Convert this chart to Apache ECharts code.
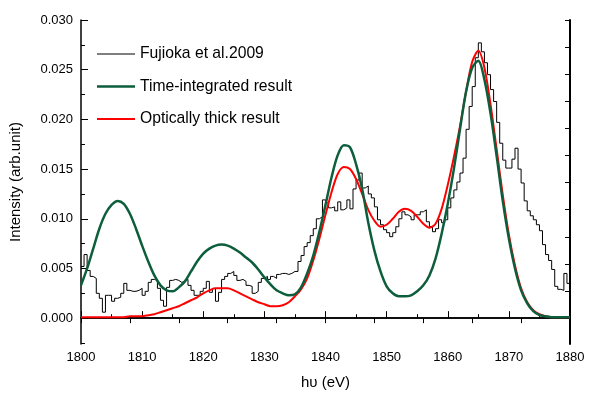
<!DOCTYPE html>
<html>
<head>
<meta charset="utf-8">
<script src="https://cdn.jsdelivr.net/npm/echarts@6/dist/echarts.min.js"></script>
<style>
  html, body { margin: 0; padding: 0; background: #fff; }
  #chart { width: 600px; height: 398px; }
</style>
</head>
<body>
<div id="chart"></div>
<script>
// measured spectrum, 0.5 eV bins starting at 1800 eV
var expStart = 1800, expStep = 0.5;
var expValues = [
  0.0052, 0.0064, 0.0048, 0.0042, 0.0040, 0.0025, 0.0020, 0.0006, 0.0023, 0.0023,
  0.0017, 0.0020, 0.0021, 0.0025, 0.0035, 0.0028, 0.0027, 0.0027, 0.0028, 0.0030,
  0.0023, 0.0027, 0.0036, 0.0039, 0.0038, 0.0030, 0.0018, 0.0012, 0.0031, 0.0038,
  0.0039, 0.0038, 0.0036, 0.0037, 0.0039, 0.0033, 0.0028, 0.0023, 0.0023, 0.0027,
  0.0030, 0.0037, 0.0026, 0.0030, 0.0017, 0.0026, 0.0039, 0.0042, 0.0045, 0.0047,
  0.0043, 0.0038, 0.0039, 0.0037, 0.0033, 0.0032, 0.0025, 0.0027, 0.0036, 0.0040,
  0.0042, 0.0039, 0.0042, 0.0040, 0.0044, 0.0045, 0.0045, 0.0044, 0.0045, 0.0047,
  0.0047, 0.0057, 0.0063, 0.0072, 0.0076, 0.0083, 0.0090, 0.0100, 0.0102, 0.0119,
  0.0116, 0.0111, 0.0112, 0.0108, 0.0117, 0.0109, 0.0111, 0.0119, 0.0110, 0.0130,
  0.0139, 0.0146, 0.0131, 0.0133, 0.0125, 0.0121, 0.0112, 0.0099, 0.0094, 0.0089,
  0.0086, 0.0082, 0.0086, 0.0092, 0.0100, 0.0107, 0.0104, 0.0102, 0.0099, 0.0104,
  0.0104, 0.0107, 0.0109, 0.0097, 0.0092, 0.0087, 0.0090, 0.0099, 0.0096, 0.0099,
  0.0111, 0.0121, 0.0129, 0.0137, 0.0146, 0.0161, 0.0190, 0.0213, 0.0233, 0.0262,
  0.0277, 0.0268, 0.0257, 0.0245, 0.0230, 0.0218, 0.0197, 0.0176, 0.0159, 0.0151,
  0.0151, 0.0160, 0.0171, 0.0150, 0.0136, 0.0118, 0.0108, 0.0103, 0.0099, 0.0094,
  0.0088, 0.0074, 0.0064, 0.0058, 0.0049, 0.0032, 0.0029, 0.0028, 0.0045, 0.0035,
  0.0035
];

// model curves, 1 eV steps starting at 1800 eV
var modelStart = 1800, modelStep = 1;
var timeIntegrated = [
  0.0033, 0.0050, 0.0070, 0.0090, 0.0105, 0.0114, 0.0118, 0.0115, 0.0105, 0.0090,
  0.0073, 0.0057, 0.0043, 0.0033, 0.0028, 0.0027, 0.0031, 0.0037, 0.0047, 0.0057,
  0.0065, 0.0070, 0.0073, 0.0074, 0.0073, 0.0070, 0.0066, 0.0061, 0.0056, 0.0049,
  0.0041, 0.0034, 0.0028, 0.0025, 0.0023, 0.0024, 0.0031, 0.0045, 0.0063, 0.0087,
  0.0114, 0.0142, 0.0164, 0.0174, 0.0172, 0.0155, 0.0130, 0.0096, 0.0068, 0.0047,
  0.0032, 0.0025, 0.0022, 0.0022, 0.0023, 0.0027, 0.0033, 0.0043, 0.0060, 0.0085,
  0.0115, 0.0150, 0.0190, 0.0228, 0.0252, 0.0259, 0.0240, 0.0206, 0.0163, 0.0118,
  0.0080, 0.0050, 0.0028, 0.0015, 0.0007, 0.0003, 0.0002, 0.0001, 0.0001, 0.0001,
  0.0001
];
var opticallyThick = [
  0.0001, 0.0001, 0.0001, 0.0001, 0.0001, 0.0001, 0.0001, 0.0001, 0.0002, 0.0002,
  0.0002, 0.0003, 0.0004, 0.0006, 0.0008, 0.0010, 0.0012, 0.0015, 0.0018, 0.0021,
  0.0025, 0.0028, 0.0030, 0.0030, 0.0030, 0.0028, 0.0025, 0.0022, 0.0019, 0.0016,
  0.0014, 0.0012, 0.0012, 0.0013, 0.0016, 0.0022, 0.0029, 0.0040, 0.0058, 0.0080,
  0.0104, 0.0127, 0.0145, 0.0152, 0.0150, 0.0140, 0.0125, 0.0109, 0.0098, 0.0092,
  0.0094, 0.0100, 0.0107, 0.0110, 0.0108, 0.0102, 0.0095, 0.0091, 0.0095, 0.0110,
  0.0134, 0.0162, 0.0193, 0.0228, 0.0258, 0.0269, 0.0252, 0.0215, 0.0170, 0.0124,
  0.0084, 0.0053, 0.0030, 0.0016, 0.0008, 0.0004, 0.0002, 0.0001, 0.0001, 0.0001,
  0.0001
];

var seriesNames = ['Fujioka et al.2009', 'Time-integrated result', 'Optically thick result'];
var yMajorTicks = [0, 0.005, 0.010, 0.015, 0.020, 0.025, 0.030];
var yMinorTicks = [-0.0025, 0.0025, 0.0075, 0.0125, 0.0175, 0.0225, 0.0275];

function pairs(start, step, vals) {
  return vals.map(function (v, i) { return [start + i * step, v]; });
}

// legend icon: a horizontal bar of given thickness in a 38x14 box
function lineIcon(t) {
  var a = 7 - t / 2, b = 7 + t / 2;
  return 'path://M0,' + a + 'H38V' + b + 'H0Z M0,0H0.01V0.01H0Z M37.99,14H38V13.99H37.99Z';
}

var rightTicks = [];
for (var k = 0; k <= 11; k++) rightTicks.push(k * 0.030 / 11);

var font = 'Arial, "Liberation Sans", sans-serif';
var lineCol = '#000';
var yMin = -0.0026, yMax = 0.030;

var chart = echarts.init(document.getElementById('chart'));
var option = {
  animation: false,
  textStyle: { fontFamily: font },
  grid: { left: 80, right: 30, top: 20, bottom: 54 },
  legend: {
    data: [
      { name: seriesNames[0], icon: lineIcon(1) },
      { name: seriesNames[1], icon: lineIcon(2.6) },
      { name: seriesNames[2], icon: lineIcon(2.2) }
    ],
    orient: 'vertical',
    left: 92,
    top: 41,
    itemWidth: 38,
    itemHeight: 14,
    itemGap: 16.5,
    textStyle: { fontSize: 15.7, color: '#000', fontFamily: font }
  },
  xAxis: [
    {
      type: 'value', min: 1800, max: 1880, interval: 10,
      name: 'h\u03c5 (eV)', nameLocation: 'middle', nameGap: 31,
      nameTextStyle: { fontSize: 15, color: '#000' },
      axisLine: { lineStyle: { color: lineCol, width: 1.5 } },
      axisTick: { inside: true, length: 7, lineStyle: { color: lineCol } },
      minorTick: { show: true, splitNumber: 2, length: 4, lineStyle: { color: lineCol } },
      axisLabel: { fontSize: 13, color: '#000', margin: 7, formatter: function (v) { return String(v); } },
      splitLine: { show: false }
    },
    {
      type: 'value', position: 'top', min: 1800, max: 1880, interval: 8,
      axisLine: { lineStyle: { color: lineCol, width: 1.5 } },
      axisTick: { inside: true, length: 5, lineStyle: { color: lineCol } },
      axisLabel: { show: false },
      splitLine: { show: false }
    }
  ],
  yAxis: [
    {
      type: 'value', min: yMin, max: yMax,
      name: 'Intensity (arb.unit)', nameLocation: 'middle', nameGap: 58,
      nameTextStyle: { fontSize: 15, color: '#000' },
      axisLine: { show: true, lineStyle: { color: lineCol, width: 1.5 } },
      axisTick: { inside: true, length: 7, customValues: yMajorTicks, lineStyle: { color: lineCol } },
      axisLabel: {
        fontSize: 13, color: '#000', margin: 8, customValues: yMajorTicks,
        formatter: function (v) { return v.toFixed(3); }
      },
      splitLine: { show: false }
    },
    {
      type: 'value', position: 'right', min: yMin, max: yMax,
      axisLine: { show: true, lineStyle: { color: lineCol, width: 2 } },
      axisTick: { inside: true, length: 5, customValues: rightTicks, lineStyle: { color: lineCol } },
      axisLabel: { show: false },
      splitLine: { show: false }
    },
    {
      type: 'value', position: 'left', min: yMin, max: yMax,
      axisLine: { show: false },
      axisTick: { inside: true, length: 4, customValues: yMinorTicks, lineStyle: { color: lineCol } },
      axisLabel: { show: false },
      splitLine: { show: false }
    }
  ],
  series: [
    {
      name: seriesNames[0], type: 'line', step: 'end', showSymbol: false, symbol: 'none',
      data: pairs(expStart, expStep, expValues),
      lineStyle: { color: '#000', width: 1 }, itemStyle: { color: '#000' }, z: 2
    },
    {
      name: seriesNames[2], type: 'line', smooth: 0.3, showSymbol: false, symbol: 'none',
      data: pairs(modelStart, modelStep, opticallyThick),
      lineStyle: { color: '#ff0000', width: 2 }, itemStyle: { color: '#ff0000' }, z: 3
    },
    {
      name: seriesNames[1], type: 'line', smooth: 0.3, showSymbol: false, symbol: 'none',
      data: pairs(modelStart, modelStep, timeIntegrated),
      lineStyle: { color: '#0d5e3c', width: 2.5 }, itemStyle: { color: '#0d5e3c' }, z: 4
    }
  ]
};
chart.setOption(option);
</script>
</body>
</html>
